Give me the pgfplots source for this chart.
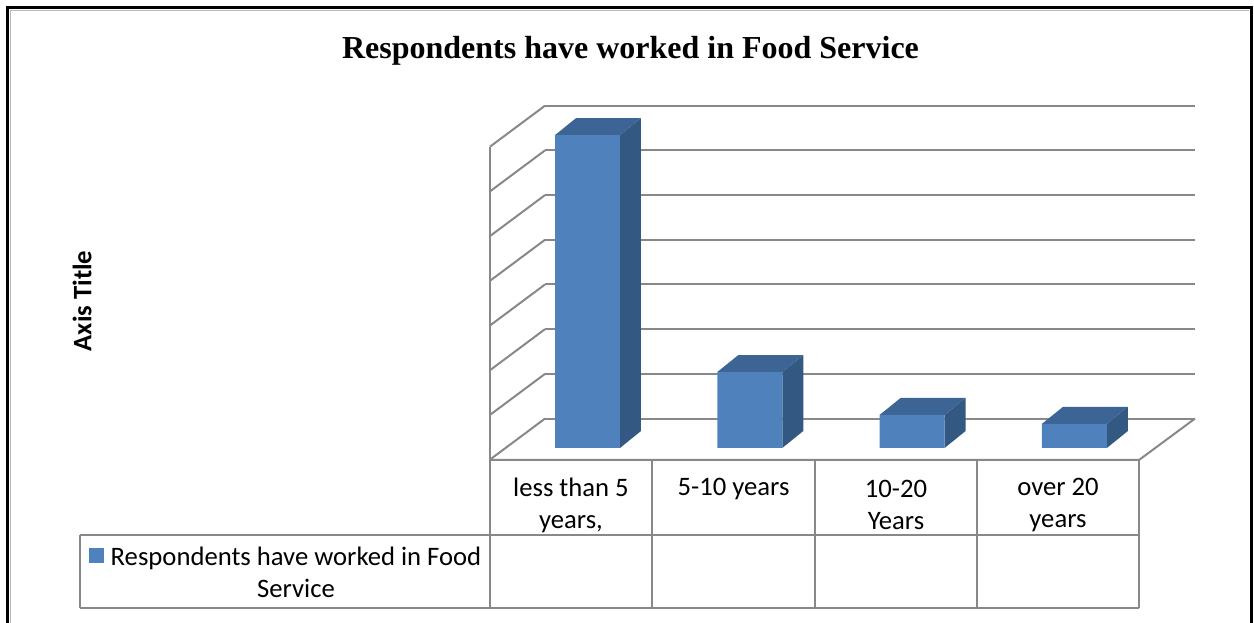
\documentclass[border=0pt]{standalone}
\usepackage{pgfplots}
\pgfplotsset{compat=1.18}
\usepackage{pgfplotstable}
\usepackage{fontspec}
\setmainfont{Carlito}
\newfontfamily\titlefont{Liberation Serif}
\definecolor{barfront}{HTML}{4F81BD}
\definecolor{bartop}{HTML}{3C6494}
\definecolor{barside}{HTML}{335881}
\definecolor{gridc}{HTML}{888888}

% values (one gridline = 10)
\pgfplotstableread{
x v
0 70
1 17
2 7.4
3 5.4
}\data
% corner parameters for the faces of a box
\pgfplotstableread{
a b
0 0
1 0
1 1
0 1
}\corners

\begin{document}
\begin{tikzpicture}
% ---------- frame, walls, floor, table (pixel units) ----------
\begin{scope}[x=0.75pt,y=-0.75pt,yshift=467.25pt]
  \draw[black,line width=2.2pt] (7.5,640) -- (7.5,7.5) -- (1251.5,7.5) -- (1251.5,640);
  \draw[gridc!60,line width=0.8pt] (10.5,640) -- (10.5,10.5) -- (1248.5,10.5);
  \begin{scope}[gridc,line width=1.5pt]
    \foreach \g in {0,...,7}{
      \pgfmathsetmacro\yy{418.6-44.7*\g}
      \draw (545,\yy) -- (1195,\yy);
      \draw (490,\yy+41) -- (545,\yy);
    }
    \draw (490,146.7) -- (490,608);
    \draw (490,460) -- (1139,460) -- (1195,418.6);
    \draw (80,535) -- (1139,535);
    \draw (80,608) -- (1139,608);
    \draw (80,535) -- (80,608);
    \foreach \xx in {652,815,977,1139}{\draw (\xx,460) -- (\xx,608);}
  \end{scope}
  % texts
  \node[font={\titlefont\bfseries\fontsize{24pt}{28pt}\selectfont}] at (630.5,50.5) {Respondents have worked in Food Service};
  \node[font={\bfseries\fontsize{20pt}{24pt}\selectfont},rotate=90] at (82,301) {Axis Title};
  \begin{scope}[every node/.style={font={\fontsize{20pt}{24pt}\selectfont},align=center}]
    \node at (571,505) {less than 5\\years,};
    \node at (733.5,489) {5-10 years};
    \node at (896,505) {10-20\\Years};
    \node at (1058,505) {over 20\\years};
    \node at (296,572) {Respondents have worked in Food\\Service};
  \end{scope}
  \fill[barfront] (89,548) rectangle (104,563);
\end{scope}

% ---------- bars ----------
\begin{axis}[at={(0,0)},anchor=south west,
  x=121.725pt, y=3.3525pt,
  xmin=-3.6199, xmax=4.1066, ymin=-39.15, ymax=100.22,
  hide axis, clip=false]
  \pgfplotsinvokeforeach{0,...,3}{
    \pgfplotstablegetelem{#1}{x}\of\data \let\bx\pgfplotsretval
    \pgfplotstablegetelem{#1}{v}\of\data \let\bv\pgfplotsretval
    \addplot[fill=barside,draw=none] table[
      x expr={\bx+0.2+0.1294*\thisrow{b}},
      y expr={\bv*\thisrow{a}+3.8*\thisrow{b}}]{\corners};
    \addplot[fill=bartop,draw=none] table[
      x expr={\bx-0.2+0.4*\thisrow{a}+0.1294*\thisrow{b}},
      y expr={\bv+3.8*\thisrow{b}}]{\corners};
  }
  \addplot[ybar,bar width=0.4,bar shift=0pt,fill=barfront,draw=none]
    table[x=x,y=v]{\data};
\end{axis}
\pgfresetboundingbox
\path (0,0) rectangle (940.5pt,467.25pt);
\end{tikzpicture}
\end{document}
